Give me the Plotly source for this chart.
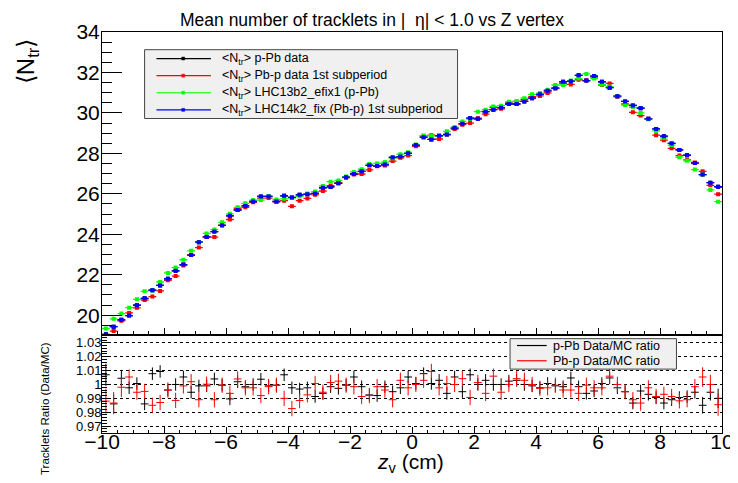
import plotly.graph_objects as go

# histogram binning: 80 bins of 0.25 cm between -10 and 10 cm
z_bins = [-9.875 + 0.25 * i for i in range(80)]

# <N_tr> per z bin
pPb_data = [
    19.05, 19.43, 19.77, 19.98, 20.49, 20.83, 21.23, 21.47, 21.80, 22.19,
    22.50, 22.97, 23.61, 23.87, 24.13, 24.44, 24.91, 25.20, 25.40, 25.62,
    25.87, 25.87, 25.62, 25.90, 25.82, 25.95, 25.98, 26.02, 26.30, 26.34,
    26.52, 26.82, 26.98, 27.11, 27.41, 27.37, 27.45, 27.80, 27.84, 28.00,
    28.41, 28.80, 28.69, 28.87, 28.93, 29.25, 29.47, 29.74, 29.71, 30.06,
    30.16, 30.26, 30.44, 30.44, 30.57, 30.73, 30.92, 31.09, 31.22, 31.54,
    31.57, 31.86, 31.60, 31.82, 31.54, 31.25, 30.83, 30.57, 30.37, 30.23,
    29.71, 29.21, 28.85, 28.49, 28.17, 27.91, 27.52, 26.95, 26.55, 26.35,
]
Pbp_data = [
    18.95, 19.21, 19.72, 20.11, 20.36, 20.75, 20.92, 21.20, 21.72, 21.93,
    22.46, 22.98, 23.34, 23.87, 23.86, 24.44, 24.73, 25.27, 25.33, 25.58,
    25.79, 25.79, 25.61, 25.66, 25.38, 25.66, 25.77, 25.95, 26.14, 26.40,
    26.55, 26.80, 26.95, 26.98, 27.18, 27.36, 27.40, 27.62, 27.78, 27.89,
    28.35, 28.87, 28.90, 28.71, 28.95, 29.20, 29.42, 29.50, 29.74, 29.94,
    30.26, 30.20, 30.52, 30.57, 30.65, 30.80, 30.84, 30.99, 31.22, 31.46,
    31.41, 31.64, 31.60, 31.77, 31.38, 31.46, 30.80, 30.44, 30.03, 29.87,
    29.71, 28.90, 28.65, 28.25, 27.89, 27.68, 27.55, 27.11, 26.42, 25.98,
]
mc_13b2 = [
    19.34, 19.82, 20.08, 20.37, 20.78, 21.18, 21.22, 21.64, 22.09, 22.35,
    22.74, 23.18, 23.60, 24.04, 24.23, 24.59, 25.01, 25.33, 25.53, 25.69,
    25.69, 25.88, 25.72, 25.75, 25.79, 25.88, 26.01, 26.11, 26.39, 26.60,
    26.66, 26.85, 27.08, 27.22, 27.47, 27.50, 27.57, 27.76, 27.96, 28.05,
    28.44, 28.87, 28.87, 28.87, 29.09, 29.30, 29.58, 29.70, 30.06, 30.16,
    30.32, 30.36, 30.55, 30.57, 30.73, 30.92, 30.98, 31.15, 31.38, 31.38,
    31.60, 31.70, 31.93, 31.70, 31.41, 31.30, 30.83, 30.39, 30.28, 30.00,
    29.69, 29.11, 28.77, 28.41, 27.81, 27.63, 27.20, 26.95, 26.19, 25.61,
]
mc_14k2 = [
    19.05, 19.43, 19.77, 19.98, 20.49, 20.83, 21.23, 21.47, 21.80, 22.19,
    22.50, 22.97, 23.61, 23.87, 24.13, 24.44, 24.91, 25.20, 25.40, 25.62,
    25.87, 25.87, 25.62, 25.90, 25.82, 25.95, 25.98, 26.02, 26.30, 26.34,
    26.52, 26.82, 26.98, 27.11, 27.41, 27.37, 27.45, 27.80, 27.84, 28.00,
    28.41, 28.80, 28.69, 28.87, 28.93, 29.25, 29.47, 29.74, 29.71, 30.06,
    30.16, 30.26, 30.44, 30.44, 30.57, 30.73, 30.92, 31.09, 31.22, 31.54,
    31.57, 31.86, 31.60, 31.82, 31.54, 31.25, 30.83, 30.57, 30.37, 30.23,
    29.71, 29.21, 28.85, 28.49, 28.17, 27.91, 27.52, 26.95, 26.55, 26.35,
]

# Data/MC ratios
ratio_pPb = [
    1.007, 0.986, 1.0045, 0.9976, 1.0007, 0.986, 1.0078, 1.0094, 0.996, 1.000,
    1.0054, 0.9944, 0.999, 0.999, 1.004, 0.9995, 0.9896, 1.002, 0.9984, 1.000,
    1.0038, 0.999, 0.9995, 1.007, 0.9976, 0.9967, 0.9976, 0.9913, 0.9936, 0.9984,
    0.9972, 0.9995, 1.0054, 0.9984, 0.9925, 0.992, 0.9984, 0.9948, 0.9976, 1.0054,
    1.0007, 1.0078, 1.0007, 1.003, 0.9936, 1.0054, 0.9948, 1.007, 1.000, 1.003,
    1.000, 1.000, 1.0024, 1.003, 1.000, 0.999, 0.9976, 1.0007, 0.999, 0.9984,
    1.0047, 0.9984, 0.9936, 0.9953, 1.0007, 1.0047, 0.9976, 0.9948, 0.9866, 0.9953,
    0.9929, 0.9906, 0.9866, 0.989, 0.9906, 0.9913, 0.9944, 0.985, 0.9944, 0.990,
]
ratio_Pbp = [
    0.988, 0.9866, 0.998, 1.0054, 0.9944, 0.995, 0.985, 0.987, 0.996, 0.9885,
    0.999, 1.002, 0.989, 1.0002, 0.989, 0.9995, 0.9936, 1.004, 0.9976, 0.9976,
    0.992, 0.9984, 0.9995, 0.990, 0.9826, 0.9884, 0.9925, 1.0007, 0.9944, 1.0014,
    1.0024, 0.9995, 0.9984, 0.9913, 0.992, 0.9984, 0.996, 0.989, 1.003, 0.9976,
    1.000, 1.003, 1.0094, 0.9976, 1.0007, 1.000, 1.0042, 0.9906, 1.0014, 0.9936,
    1.006, 0.9944, 1.000, 1.0042, 1.003, 1.000, 0.9972, 0.9976, 0.9995, 0.996,
    0.996, 0.9936, 0.9995, 0.9976, 0.9976, 1.006, 1.000, 0.9948, 0.989, 0.9866,
    0.9976, 0.9913, 0.9929, 0.9913, 0.9882, 0.989, 0.9984, 1.0054, 1.000, 0.9854,
]
ratio_err_pPb = [0.008, 0.007, 0.006] + [0.0045] * 74 + [0.006, 0.006, 0.007]
ratio_err_Pbp = [0.009, 0.008, 0.007] + [0.0055] * 74 + [0.007, 0.007, 0.008]

FONT = "Liberation Sans, Arial, sans-serif"

fig = go.Figure()

# upper panel
for name, vals, col in [("p-Pb data", pPb_data, "black"),
                        ("Pb-p data 1st subperiod", Pbp_data, "#ff0000"),
                        ("LHC13b2_efix1 (p-Pb)", mc_13b2, "#00ff00"),
                        ("LHC14k2_fix (Pb-p) 1st subperiod", mc_14k2, "#0000ff")]:
    fig.add_trace(go.Scatter(
        x=z_bins, y=vals, mode="markers", name=name, showlegend=False,
        marker=dict(color=col, size=4, symbol="square"),
        error_x=dict(type="constant", value=0.125, width=0, thickness=1.3, color=col),
        error_y=dict(type="constant", value=0.07, width=0, thickness=1.3, color=col),
        xaxis="x", yaxis="y"))

# ratio panel
for name, vals, errs, col in [("p-Pb Data/MC ratio", ratio_pPb, ratio_err_pPb, "black"),
                              ("Pb-p Data/MC ratio", ratio_Pbp, ratio_err_Pbp, "#ff0000")]:
    fig.add_trace(go.Scatter(
        x=z_bins, y=vals, mode="markers", name=name, showlegend=False,
        marker=dict(color=col, size=1),
        error_x=dict(type="constant", value=0.125, width=0, thickness=1, color=col),
        error_y=dict(type="data", array=errs, width=0, thickness=1, color=col),
        xaxis="x2", yaxis="y2"))

# the page body adds an 8 px offset, so the figure is laid out 8 px up/left
OFF = 8
W, H = 738, 483
L, T = 102 - OFF, 25 - OFF
pw, ph = 626, 408
R = W - L - pw
B = H - T - ph


def px(x):
    return (x - OFF - L) / pw


def py(y):
    return (T + ph - (y - OFF)) / ph


shapes = []
annotations = []

# legend of the upper panel
shapes.append(dict(type="rect", xref="paper", yref="paper", layer="above",
                   x0=px(145), x1=px(461), y0=py(113), y1=py(43),
                   fillcolor="#f0f0f0", line=dict(color="#444", width=1)))
leg1 = [("p-Pb data", "black"), ("Pb-p data 1st subperiod", "#ff0000"),
        ("LHC13b2_efix1 (p-Pb)", "#00ff00"), ("LHC14k2_fix (Pb-p) 1st subperiod", "#0000ff")]
for k, (txt, col) in enumerate(leg1):
    yy = 52 + 17.4 * k
    shapes.append(dict(type="line", xref="paper", yref="paper", layer="above",
                       x0=px(157), x1=px(212), y0=py(yy), y1=py(yy),
                       line=dict(color=col, width=1.2)))
    shapes.append(dict(type="rect", xref="paper", yref="paper", layer="above",
                       x0=px(182.5), x1=px(185.5), y0=py(yy + 1.5), y1=py(yy - 1.5),
                       fillcolor=col, line=dict(color=col, width=0.5)))
    annotations.append(dict(xref="paper", yref="paper", x=px(221), y=py(yy),
                            xanchor="left", yanchor="middle", showarrow=False,
                            text="&lt;N<sub>tr</sub>&gt; " + txt,
                            font=dict(family=FONT, size=12.5, color="black")))

# legend of the ratio panel
shapes.append(dict(type="rect", xref="paper", yref="paper", layer="above",
                   x0=px(514), x1=px(682), y0=py(368), y1=py(337),
                   fillcolor="#f0f0f0", line=dict(color="#444", width=1)))
for k, (txt, col) in enumerate([("p-Pb Data/MC ratio", "black"), ("Pb-p Data/MC ratio", "#ff0000")]):
    yy = 344 + 15.5 * k
    shapes.append(dict(type="line", xref="paper", yref="paper", layer="above",
                       x0=px(521), x1=px(551), y0=py(yy), y1=py(yy),
                       line=dict(color=col, width=1.2)))
    annotations.append(dict(xref="paper", yref="paper", x=px(555), y=py(yy),
                            xanchor="left", yanchor="middle", showarrow=False,
                            text=txt, font=dict(family=FONT, size=12.5, color="black")))

# titles
annotations.append(dict(xref="paper", yref="paper", x=px(375), y=py(13),
                        xanchor="center", yanchor="middle", showarrow=False,
                        text="Mean number of tracklets in |  \u03b7| < 1.0 vs Z vertex",
                        font=dict(family=FONT, size=17.5, color="black")))
annotations.append(dict(xref="paper", yref="paper", x=px(27), y=py(55),
                        xanchor="center", yanchor="middle", showarrow=False, textangle=-90,
                        text="\u27e8N<sub>tr</sub>\u27e9",
                        font=dict(family=FONT, size=24, color="black")))
annotations.append(dict(xref="paper", yref="paper", x=px(45), y=py(408),
                        xanchor="center", yanchor="middle", showarrow=False, textangle=-90,
                        text="Tracklets Ratio (Data/MC)",
                        font=dict(family=FONT, size=11.5, color="black")))
annotations.append(dict(xref="paper", yref="paper", x=px(413), y=py(464),
                        xanchor="center", yanchor="middle", showarrow=False,
                        text="<i>z</i><sub>v</sub> (cm)",
                        font=dict(family=FONT, size=21, color="black")))

axis_common = dict(showline=True, linecolor="black", linewidth=1, mirror=True,
                   showgrid=False, zeroline=False, tickcolor="black")

fig.update_layout(
    width=W, height=H,
    margin=dict(l=L, r=R, t=T, b=B),
    paper_bgcolor="white", plot_bgcolor="white",
    font=dict(family=FONT, color="black"),
    xaxis=dict(axis_common, domain=[0, 1], anchor="y", range=[-10.0001, 10.0001],
               dtick=2, tick0=-10, ticks="inside", ticklen=6, showticklabels=False,
               minor=dict(dtick=0.5, ticks="inside", ticklen=3, tickcolor="black")),
    yaxis=dict(axis_common, domain=[0.2475, 1], anchor="x", range=[19.08, 34.001],
               dtick=2, tick0=20, ticks="inside", ticklen=20,
               tickfont=dict(family=FONT, size=21), ticklabelstandoff=-3,
               minor=dict(dtick=0.5, ticks="inside", ticklen=10, tickcolor="black")),
    xaxis2=dict(axis_common, domain=[0, 1], anchor="y2", range=[-10.0001, 10.0001], matches="x",
                dtick=2, tick0=-10, ticks="inside", ticklen=6,
                tickfont=dict(family=FONT, size=21), ticklabelstandoff=-10,
                minor=dict(dtick=0.5, ticks="inside", ticklen=3, tickcolor="black")),
    yaxis2=dict(axis_common, domain=[0, 0.242], anchor="x2", range=[0.965, 1.035],
                dtick=0.01, tick0=0.97, ticks="inside", ticklen=9,
                showgrid=True, gridcolor="black", griddash="dot", gridwidth=1,
                tickfont=dict(family=FONT, size=13), ticklabelstandoff=-3,
                minor=dict(dtick=0.002, ticks="inside", ticklen=5, tickcolor="black")),
    shapes=shapes,
    annotations=annotations,
)

fig.write_html("out.html")
